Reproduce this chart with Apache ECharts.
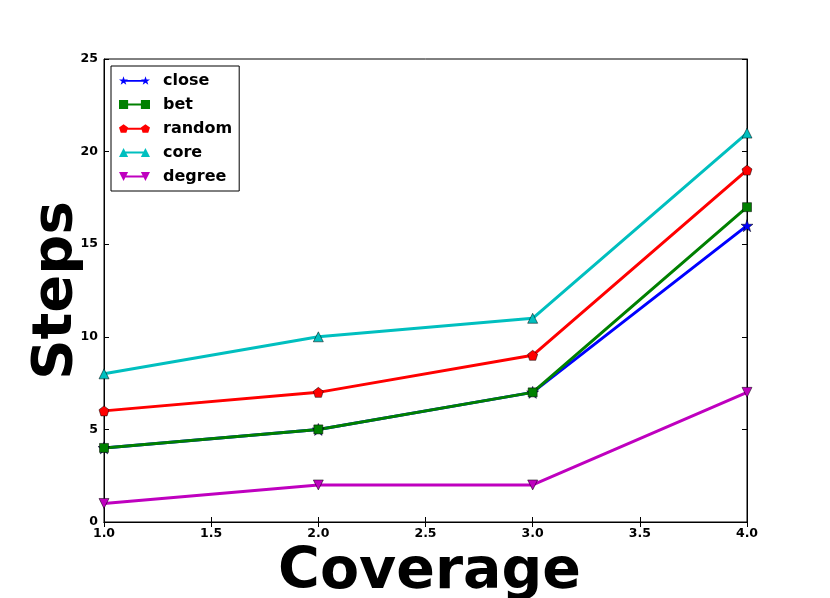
<!DOCTYPE html>
<html>
<head>
<meta charset="utf-8">
<script src="https://cdn.jsdelivr.net/npm/echarts@6/dist/echarts.min.js"></script>
<style>html,body{margin:0;padding:0;background:#fff;}#c{width:830px;height:598px;}</style>
</head>
<body>
<div id="c"></div>
<script>
var coverage = [1.0, 2.0, 3.0, 4.0];
var seriesNames = ['close', 'bet', 'random', 'core', 'degree'];
var closeSteps = [4, 5, 7, 16];
var betSteps = [4, 5, 7, 17];
var randomSteps = [6, 7, 9, 19];
var coreSteps = [8, 10, 11, 21];
var degreeSteps = [1, 2, 2, 7];

// marker outlines in a 100x100 box (clockwise)
var shapes = {
  star: [[50,0],[61.8,35.3],[99,35.3],[69.1,57.6],[80.4,92.7],[50,71],[19.6,92.7],[30.9,57.6],[1,35.3],[38.2,35.3]],
  square: [[0,0],[100,0],[100,100],[0,100]],
  pent: [[50,0],[100,36.3],[80.9,95],[19.1,95],[0,36.3]],
  tri: [[50,0],[100,100],[0,100]],
  tridown: [[0,0],[100,0],[50,100]]
};
function shapePath(pts, ox, s){
  return 'M' + pts.map(function(p){ return (ox + p[0]*s).toFixed(1) + ',' + (p[1]*s).toFixed(1); }).join(' L') + ' Z';
}
function symbolOf(key){ return 'path://' + shapePath(shapes[key], 0, 1); }
// legend icon: line with marker at each end; box 340 x 100
function legendIcon(key){
  return 'path://' + shapePath(shapes[key], 0, 1) + ' M50,40 L290,40 L290,60 L50,60 Z ' + shapePath(shapes[key], 240, 1);
}

function pairs(vals){ return coverage.map(function(x,i){ return [x, vals[i]]; }); }
var FONT = 'DejaVu Sans';
var styles = {
  close: {color: '#0000ff', key: 'star', size: 12},
  bet: {color: '#008000', key: 'square', size: 9},
  random: {color: '#ff0000', key: 'pent', size: 10},
  core: {color: '#00bfbf', key: 'tri', size: 10},
  degree: {color: '#bf00bf', key: 'tridown', size: 10}
};
var valuesByName = {close: closeSteps, bet: betSteps, random: randomSteps, core: coreSteps, degree: degreeSteps};
function mk(name){
  var st = styles[name];
  return {
    name: name, type: 'line', data: pairs(valuesByName[name]),
    symbol: symbolOf(st.key), symbolSize: st.size,
    showAllSymbol: true, clip: true,
    lineStyle: {color: st.color, width: 3},
    itemStyle: {color: st.color, borderColor: '#000', borderWidth: 0.5},
    emphasis: {disabled: true},
    animation: false
  };
}
var chart = echarts.init(document.getElementById('c'));
var tickLbl = {fontFamily: FONT, fontWeight: 'bold', fontSize: 12.5, color: '#000'};
chart.setOption({
  backgroundColor: '#fff',
  animation: false,
  grid: {left: 104, right: 83, top: 59, bottom: 76, outerBoundsMode: 'none', containLabel: false,
         show: true, borderColor: '#000', borderWidth: 1},
  legend: {
    left: 111, top: 66, orient: 'vertical',
    data: seriesNames.map(function(n){
      return {name: n, icon: legendIcon(styles[n].key),
              itemStyle: {color: styles[n].color, borderWidth: 0}};
    }),
    backgroundColor: '#fff', borderColor: '#000', borderWidth: 1, borderRadius: 0,
    padding: [5, 7, 5, 8],
    itemGap: 5, itemWidth: 31, itemHeight: 10,
    textStyle: {fontFamily: FONT, fontWeight: 'bold', fontSize: 16, color: '#000', lineHeight: 19, padding: [0,0,0,8]},
    selectedMode: false
  },
  xAxis: [{
    type: 'value', min: 1, max: 4, interval: 0.5,
    name: 'Coverage', nameLocation: 'middle', nameGap: 21,
    nameTextStyle: {fontFamily: FONT, fontWeight: 'bold', fontSize: 57, color: '#000', padding: [0,0,0,8]},
    axisLine: {show: true, lineStyle: {color: '#000', width: 1}},
    axisTick: {show: true, inside: true, length: 5, lineStyle: {color: '#000'}},
    axisLabel: Object.assign({formatter: function(v){return v.toFixed(1);}, margin: 5}, tickLbl),
    splitLine: {show: false}
  },{
    type: 'value', min: 1, max: 4, interval: 0.5, position: 'top',
    axisLine: {show: true, lineStyle: {color: '#000', width: 1}},
    axisTick: {show: true, inside: true, length: 5, lineStyle: {color: '#000'}},
    axisLabel: {show: false}, splitLine: {show: false}
  }],
  yAxis: [{
    type: 'value', min: 0, max: 25, interval: 5,
    name: 'Steps', nameLocation: 'middle', nameGap: 20, nameMoveOverlap: false,
    nameTextStyle: {fontFamily: FONT, fontWeight: 'bold', fontSize: 56, color: '#000'},
    axisLine: {show: true, lineStyle: {color: '#000', width: 1}},
    axisTick: {show: true, inside: true, length: 5, lineStyle: {color: '#000'}},
    axisLabel: Object.assign({margin: 6}, tickLbl),
    splitLine: {show: false}
  },{
    type: 'value', min: 0, max: 25, interval: 5, position: 'right',
    axisLine: {show: true, lineStyle: {color: '#000', width: 1}},
    axisTick: {show: true, inside: true, length: 5, lineStyle: {color: '#000'}},
    axisLabel: {show: false}, splitLine: {show: false}
  }],
  series: seriesNames.map(mk)
});
</script>
</body>
</html>
